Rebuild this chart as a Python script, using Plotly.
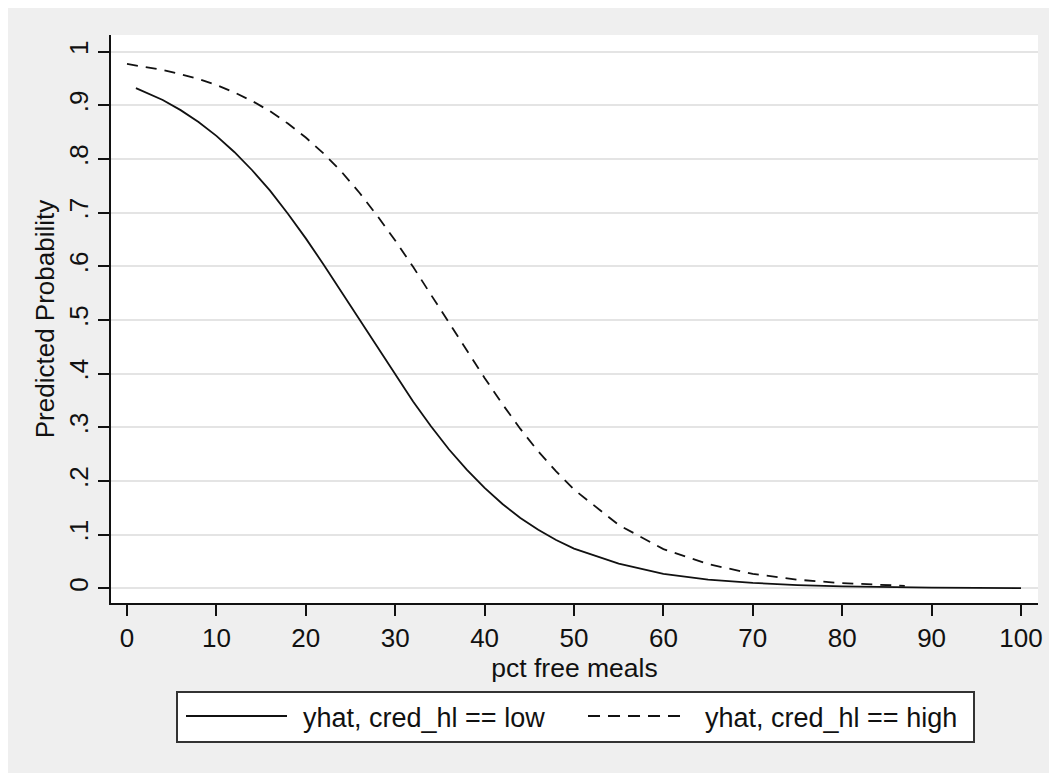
import plotly.graph_objects as go

# ---- data ----
low_x = [1, 2, 4, 6, 8, 10, 12, 14, 16, 18, 20, 22, 24, 26, 28, 30, 32, 34, 36, 38,
         40, 42, 44, 46, 48, 50, 55, 60, 65, 70, 75, 80, 85, 90, 95, 100]
low_y = [0.932, 0.925, 0.910, 0.891, 0.869, 0.843, 0.813, 0.779, 0.741, 0.698,
         0.652, 0.603, 0.552, 0.500, 0.448, 0.397, 0.348, 0.302, 0.259, 0.221,
         0.187, 0.157, 0.131, 0.109, 0.090, 0.074, 0.046, 0.027, 0.016, 0.010,
         0.006, 0.0034, 0.0020, 0.0012, 0.0007, 0.0004]

high_x = [0, 2, 4, 6, 8, 10, 12, 14, 16, 18, 20, 22, 24, 26, 28, 30, 32, 34, 36, 38,
          40, 42, 44, 46, 48, 50, 55, 60, 65, 70, 75, 80, 85, 87]
high_y = [0.977, 0.972, 0.966, 0.958, 0.949, 0.938, 0.924, 0.908, 0.889, 0.866,
          0.840, 0.810, 0.776, 0.737, 0.694, 0.648, 0.599, 0.547, 0.495, 0.443,
          0.392, 0.343, 0.297, 0.255, 0.218, 0.184, 0.118, 0.073, 0.045, 0.027,
          0.016, 0.0096, 0.0057, 0.0046]

x_ticks = [0, 10, 20, 30, 40, 50, 60, 70, 80, 90, 100]
y_ticks = [0, 0.1, 0.2, 0.3, 0.4, 0.5, 0.6, 0.7, 0.8, 0.9, 1]
y_tick_labels = ["0", ".1", ".2", ".3", ".4", ".5", ".6", ".7", ".8", ".9", "1"]

series_names = ["yhat, cred_hl == low", "yhat, cred_hl == high"]
x_title = "pct free meals"
y_title = "Predicted Probability"

# ---- style ----
FONT = "Liberation Sans, Arial, sans-serif"
BG = "#efefef"
INK = "#111111"

OFF = 8  # page body margin
W, H = 1057 - OFF, 773 - OFF
ML, MR, MT, MB = 111 - OFF, 1057 - 1038, 35 - OFF, 773 - 603
PW, PH = W - ML - MR, H - MT - MB


def px_x(p):
    return (p - OFF - ML) / PW


def px_y(p):
    return (H - MB - (p - OFF)) / PH


fig = go.Figure()
fig.add_trace(go.Scatter(x=low_x, y=low_y, mode="lines", name=series_names[0],
                         line=dict(color=INK, width=1.8), showlegend=False))
fig.add_trace(go.Scatter(x=high_x, y=high_y, mode="lines", name=series_names[1],
                         line=dict(color=INK, width=1.8, dash="11px,8px"),
                         showlegend=False))

shapes = [
    # legend box
    dict(type="rect", xref="paper", yref="paper", x0=px_x(177), x1=px_x(974),
         y0=px_y(742), y1=px_y(692), fillcolor="white",
         line=dict(color="#333333", width=2), layer="above"),
    # legend samples
    dict(type="line", xref="paper", yref="paper", x0=px_x(186), x1=px_x(287),
         y0=px_y(716), y1=px_y(716), line=dict(color=INK, width=1.8)),
    dict(type="line", xref="paper", yref="paper", x0=px_x(588), x1=px_x(688),
         y0=px_y(716), y1=px_y(716), line=dict(color=INK, width=1.8, dash="12px,8px")),
]

annotations = [
    dict(xref="paper", yref="paper", x=px_x(301), y=px_y(718), text=series_names[0],
         showarrow=False, xanchor="left", yanchor="middle",
         font=dict(family=FONT, size=27, color=INK)),
    dict(xref="paper", yref="paper", x=px_x(703), y=px_y(718), text=series_names[1],
         showarrow=False, xanchor="left", yanchor="middle",
         font=dict(family=FONT, size=27, color=INK)),
]

fig.update_layout(
    width=W, height=H,
    margin=dict(l=ML, r=MR, t=MT, b=MB, pad=0),
    paper_bgcolor=BG, plot_bgcolor="white",
    font=dict(family=FONT, color=INK),
    shapes=shapes, annotations=annotations,
    showlegend=False,
)

fig.update_xaxes(
    range=[-1.79, 101.9], tickmode="array", tickvals=x_ticks,
    ticktext=[str(v) for v in x_ticks],
    showgrid=False, zeroline=False,
    showline=True, linecolor=INK, linewidth=2,
    ticks="outside", ticklen=11, tickwidth=2, tickcolor=INK,
    tickfont=dict(family=FONT, size=26, color=INK),
    title=dict(text=x_title, font=dict(family=FONT, size=26.5, color=INK), standoff=0),
    automargin=False,
)
fig.update_yaxes(
    range=[-0.0274, 1.031], tickmode="array", tickvals=y_ticks,
    ticktext=y_tick_labels, tickangle=-90,
    showgrid=True, gridcolor="#e4e4e4", gridwidth=2, zeroline=False,
    showline=True, linecolor=INK, linewidth=2,
    ticks="outside", ticklen=11, tickwidth=2, tickcolor=INK,
    tickfont=dict(family=FONT, size=26, color=INK),
    title=dict(text=y_title, font=dict(family=FONT, size=26, color=INK), standoff=1),
    automargin=False,
)

fig.write_html("out.html")
